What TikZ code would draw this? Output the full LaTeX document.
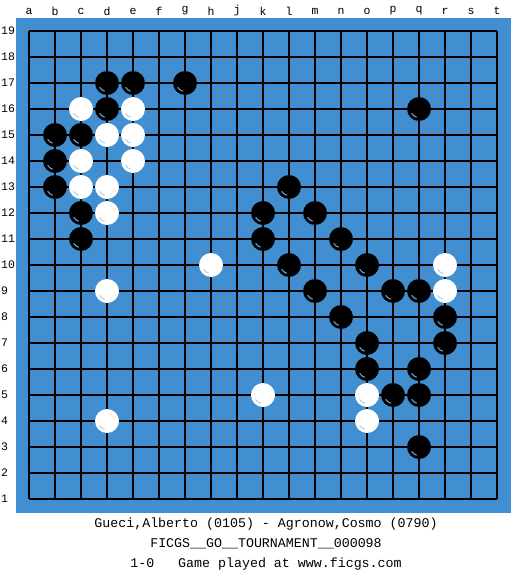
\documentclass[tikz,border=0pt]{standalone}
\usepackage{fontspec}
\setmonofont{Liberation Mono}
\definecolor{board}{RGB}{65,143,208}
\definecolor{bshine}{RGB}{120,170,220}
\definecolor{wshine}{RGB}{170,205,235}
\begin{document}
\begin{tikzpicture}[x=1pt,y=-1pt,
  gridline/.style={line width=1.8pt,black},
  bstone/.style={circle,fill=black,minimum size=24pt,inner sep=0pt},
  wstone/.style={circle,fill=white,minimum size=24pt,inner sep=0pt},
  lbl/.style={font=\ttfamily\fontsize{11.5}{11.5}\selectfont,inner sep=0pt},
  caption/.style={font=\ttfamily\fontsize{13.3}{13.3}\selectfont,inner sep=0pt}]
\useasboundingbox (0,0) rectangle (525,575);
\fill[white] (0,0) rectangle (525,575);
\fill[board] (16,18) rectangle (511,513);
% grid
\foreach \i in {0,...,18} {
  \draw[gridline] (29+26*\i,31) -- (29+26*\i,499);
  \draw[gridline] (29,31+26*\i) -- (497,31+26*\i);
}
% column labels
\foreach \c [count=\i from 0] in {a,b,c,d,e,f,g,h,j,k,l,m,n,o,p,q,r,s,t}
  \node[lbl] (col\c) at (29+26*\i,11) {\c};
% row labels
\foreach \r in {1,...,19}
  \node[lbl,anchor=west] (row\r) at (1,31+26*19-26*\r) {\r};
% stones
\newcommand\bst[2]{%
  \node[bstone] (b#1#2) at (29+26*#1,31+26*19-26*#2) {};
  \draw[bshine,line width=1pt] (b#1#2.center) ++(105:8.5) arc[start angle=105,end angle=150,radius=8.5];}
\newcommand\wst[2]{%
  \node[wstone] (w#1#2) at (29+26*#1,31+26*19-26*#2) {};
  \draw[wshine,line width=0.9pt] (w#1#2.center) ++(105:8.5) arc[start angle=105,end angle=150,radius=8.5];}
% column index: a0 b1 c2 d3 e4 f5 g6 h7 j8 k9 l10 m11 n12 o13 p14 q15 r16 s17 t18
% black
\bst{3}{17}\bst{4}{17}\bst{6}{17}
\bst{3}{16}\bst{15}{16}
\bst{1}{15}\bst{2}{15}
\bst{1}{14}
\bst{1}{13}\bst{10}{13}
\bst{2}{12}\bst{9}{12}\bst{11}{12}
\bst{2}{11}\bst{9}{11}\bst{12}{11}
\bst{10}{10}\bst{13}{10}
\bst{11}{9}\bst{14}{9}\bst{15}{9}
\bst{12}{8}\bst{16}{8}
\bst{13}{7}\bst{16}{7}
\bst{13}{6}\bst{15}{6}
\bst{14}{5}\bst{15}{5}
\bst{15}{3}
% white
\wst{2}{16}\wst{4}{16}
\wst{3}{15}\wst{4}{15}
\wst{2}{14}\wst{4}{14}
\wst{2}{13}\wst{3}{13}
\wst{3}{12}
\wst{7}{10}\wst{16}{10}
\wst{3}{9}\wst{16}{9}
\wst{9}{5}\wst{13}{5}
\wst{3}{4}\wst{13}{4}
% captions
\node[caption] (players) at (266,524) {Gueci,Alberto (0105) - Agronow,Cosmo (0790)};
\node[caption] (event) at (266,544) {FICGS\_\_GO\_\_TOURNAMENT\_\_000098};
\node[caption] (result) at (266,564) {1-0\ \ \ Game played at www.ficgs.com};
\end{tikzpicture}
\end{document}
